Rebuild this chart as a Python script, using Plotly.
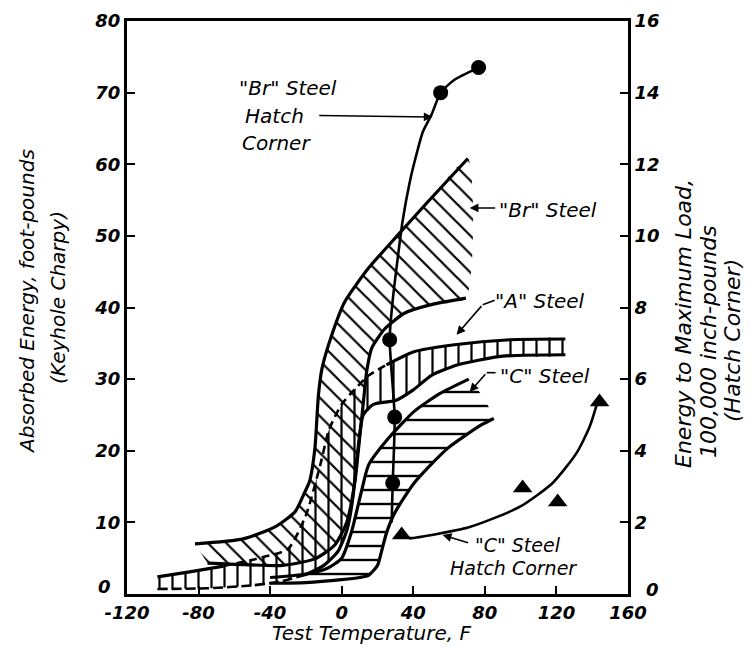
import plotly.graph_objects as go

# ---------------- data ----------------
x_ticks = [-120, -80, -40, 0, 40, 80, 120, 160]
x_ticktext = ["-120", "-80", "-40", "0", "40", "80", "120", "160"]
y_ticks = [0, 10, 20, 30, 40, 50, 60, 70, 80]
y_ticktext = ["", "10", "20", "30", "40", "50", "60", "70", "80"]
y2_ticks = [0, 2, 4, 6, 8, 10, 12, 14, 16]
y2_ticktext = ["", "2", "4", "6", "8", "10", "12", "14", "16"]

# "Br" Steel band (Charpy, ft-lb)
br_up_t = [-82, -55, -37, -26, -20.5, -18, -15, -13, -11, -5.5, 1.7, 15, 31.7, 48.3, 70.5]
br_up_e = [7.0, 7.7, 9.4, 11.5, 14.3, 15.7, 20.3, 27.8, 31.5, 36.2, 40.8, 45.5, 50.2, 54.8, 60.8]
br_lo_t = [69.4, 50, 35, 24, 16.7, 13.9, 12.2, 9.4, 7.4, 2.8, -4, -15, -33, -55, -75]
br_lo_e = [41.3, 40.4, 39.2, 37, 34.3, 31, 27, 20.3, 15.7, 10, 6.8, 4.9, 4.0, 4.1, 4.3]

# "A" Steel band
a_up_t = [-103, -85, -66, -48, -30, -20, -12, -7, 0, 7, 15, 25, 40, 63, 94, 125]
a_up_e = [2.4, 3.1, 3.9, 4.9, 6.3, 11, 18, 23, 26.5, 28.5, 30.5, 32, 33.8, 34.8, 35.5, 35.6]
a_lo_t = [125, 90, 65, 50, 40, 30, 18, 12, 9, 6, 3, -2, -10, -20, -35, -50, -75, -103]
a_lo_e = [33.4, 33.2, 32, 30.5, 28.5, 27, 26.5, 25, 20, 13, 9, 6, 4, 2.7, 1.7, 1.2, 0.8, 0.7]

# "C" Steel band
c_up_t = [-40, -20, -8, 0, 5.5, 11, 15, 26, 40.5, 55, 71]
c_up_e = [2.3, 2.8, 3.6, 5, 8.7, 14.3, 18, 21.7, 25.5, 28, 30]
c_end_t = [80]
c_end_e = [27]
c_lo_t = [85, 78, 59, 40.5, 29.6, 25, 22, 20, 15, 10, 0, -20, -40]
c_lo_e = [24.5, 23.6, 20.3, 15.5, 11.3, 8.5, 5.7, 4.0, 2.6, 2.3, 2.0, 1.6, 1.5]

# "Br" Steel hatch corner (right axis, 100,000 in-lb)
brh_curve_t = [27.9, 28.5, 29.6, 26.8, 28.5, 34.0, 38.0, 41.9, 45.3, 50.3, 55.3, 63.0, 76.5]
brh_curve_r = [2.0, 3.1, 4.94, 7.1, 8.2, 10.4, 11.5, 12.3, 12.9, 13.4, 14.0, 14.36, 14.7]
brh_pts_t = [28.5, 29.6, 26.8, 55.3, 76.5]
brh_pts_r = [3.1, 4.94, 7.1, 14.0, 14.7]

# "C" Steel hatch corner (right axis)
ch_curve_t = [36, 38, 71.5, 99.4, 117.9, 131.3, 138.5, 142.5]
ch_curve_r = [1.6, 1.56, 1.87, 2.43, 3.1, 3.94, 4.66, 5.28]
ch_pts_t = [33.5, 101.1, 120.7, 144.1]
ch_pts_r = [1.65, 2.96, 2.57, 5.36]

# ---------------- figure ----------------
FONT = "DejaVu Sans"
BLACK = "black"
fig = go.Figure()


def band(ut, ue, lt, le, shape, size, extra_t=(), extra_e=()):
    xs = list(ut) + list(extra_t) + list(lt)
    ys = list(ue) + list(extra_e) + list(le)
    fig.add_trace(go.Scatter(
        x=xs, y=ys, mode="lines", fill="toself",
        fillcolor="rgba(0,0,0,0)",
        fillpattern=dict(shape=shape, size=size, solidity=0.17,
                         fgcolor=BLACK, fgopacity=1, bgcolor="rgba(0,0,0,0)"),
        line=dict(width=0, shape="spline", smoothing=0.6),
        hoverinfo="skip"))


def bline(t, e, width=3.2, dash="solid", yaxis="y"):
    fig.add_trace(go.Scatter(
        x=t, y=e, mode="lines", yaxis=yaxis,
        line=dict(color=BLACK, width=width, dash=dash, shape="spline", smoothing=0.6),
        hoverinfo="skip"))


band(br_up_t, br_up_e, br_lo_t, br_lo_e, "\\", 13)
band(a_up_t, a_up_e, a_lo_t, a_lo_e, "|", 13)
band(c_up_t, c_up_e, c_lo_t, c_lo_e, "-", 14, c_end_t, c_end_e)

# boundaries
bline(br_up_t, br_up_e)
bline(br_lo_t, br_lo_e)
bline(a_up_t[:3], a_up_e[:3])
bline(a_up_t[2:12], a_up_e[2:12], width=2.6, dash="8px,5px")
bline(a_up_t[11:], a_up_e[11:])
bline(a_lo_t[:14], a_lo_e[:14])
bline(a_lo_t[13:], a_lo_e[13:], width=2.6, dash="10px,4px")
bline(c_up_t, c_up_e)
bline(c_lo_t, c_lo_e)

# hatch-corner curves (right axis)
bline(brh_curve_t, brh_curve_r, width=2.6, yaxis="y2")
fig.add_trace(go.Scatter(x=brh_pts_t, y=brh_pts_r, mode="markers", yaxis="y2",
                         marker=dict(symbol="circle", size=15, color=BLACK), hoverinfo="skip"))
bline(ch_curve_t, ch_curve_r, width=2.6, yaxis="y2")
fig.add_trace(go.Scatter(x=ch_pts_t, y=ch_pts_r, mode="markers", yaxis="y2",
                         marker=dict(symbol="triangle-up", size=17, color=BLACK), hoverinfo="skip"))

tickfont = dict(family=FONT, size=18, color=BLACK, style="italic", weight="bold")
axis_common = dict(showline=True, linewidth=3, linecolor=BLACK, ticks="inside",
                   ticklen=8, tickwidth=2, tickcolor=BLACK, showgrid=False,
                   zeroline=False, tickfont=tickfont)

fig.update_layout(
    width=750, height=647,
    margin=dict(l=127, r=122, t=21, b=53, autoexpand=False),
    paper_bgcolor="white", plot_bgcolor="white",
    showlegend=False,
    xaxis=dict(range=[-120, 160], tickvals=x_ticks, ticktext=x_ticktext,
               mirror=True, **axis_common),
    yaxis=dict(range=[0, 80], tickvals=y_ticks, ticktext=y_ticktext, **axis_common),
    yaxis2=dict(range=[0, 16], tickvals=y2_ticks, ticktext=y2_ticktext,
                overlaying="y", side="right", **axis_common),
)

# ---------------- text ----------------
PL, PR, PT, PB = 127, 628, 21, 594


def px(xp, yp):
    return (xp - PL) / (PR - PL), (PB - yp) / (PB - PT)


def text(s, xp, yp, size=19, angle=0, anchor="left", weight="normal"):
    x, y = px(xp, yp)
    fig.add_annotation(text=s, x=x, y=y, xref="paper", yref="paper",
                       xanchor=anchor, yanchor="middle", showarrow=False,
                       textangle=angle,
                       font=dict(family=FONT, size=size, color=BLACK,
                                 style="italic", weight=weight))


# zero labels of both vertical axes, drawn at the corners as in the source
text("0", 104, 586, size=18, anchor="center", weight="bold")
text("0", 652, 589, size=18, anchor="center", weight="bold")

# axis titles
text("Absorbed Energy, foot-pounds", 27, 302, size=20, angle=-90, anchor="center")
text("(Keyhole Charpy)", 58, 298, size=20, angle=-90, anchor="center")
text("Energy to Maximum Load,", 683, 324, size=22, angle=-90, anchor="center")
text("100,000 inch-pounds", 708, 342, size=22, angle=-90, anchor="center")
text("(Hatch Corner)", 732, 341, size=22, angle=-90, anchor="center")
text("Test Temperature, F", 371, 633, size=20, anchor="center")

# in-plot labels
text('"Br" Steel', 237, 88, size=20)
text("Hatch", 243, 116, size=20)
text("Corner", 240, 143, size=20)
text('"Br" Steel', 497, 210, size=20)
text('"A" Steel', 493, 301, size=20)
text('"C" Steel', 498, 376, size=20)
text('"C" Steel', 473, 545, size=19)
text("Hatch Corner", 448, 568, size=19)


def arrow(ht, he, tt, te):
    fig.add_annotation(x=ht, y=he, ax=tt, ay=te, xref="x", yref="y",
                       axref="x", ayref="y", text="", showarrow=True,
                       arrowhead=2, arrowsize=1.1, arrowwidth=1.6,
                       arrowcolor=BLACK)


def seg(t0, e0, t1, e1):
    fig.add_shape(type="line", x0=t0, y0=e0, x1=t1, y1=e1, xref="x", yref="y",
                  line=dict(color=BLACK, width=1.6))


arrow(50.8, 66.6, -13.4, 66.8)      # Br hatch corner leader
arrow(71.5, 53.9, 86.6, 53.9)       # Br steel
seg(85.5, 41.0, 78.8, 40.4)
arrow(64.2, 36.2, 78.8, 40.4)       # A steel
seg(86.0, 30.9, 81.0, 30.9)
arrow(71.5, 28.2, 81.0, 30.9)       # C steel
arrow(56.4, 8.24, 71.5, 7.1)        # C steel hatch corner

fig.write_html("out.html", config={"displayModeBar": False},
               post_script="document.body.style.margin='0px';")
